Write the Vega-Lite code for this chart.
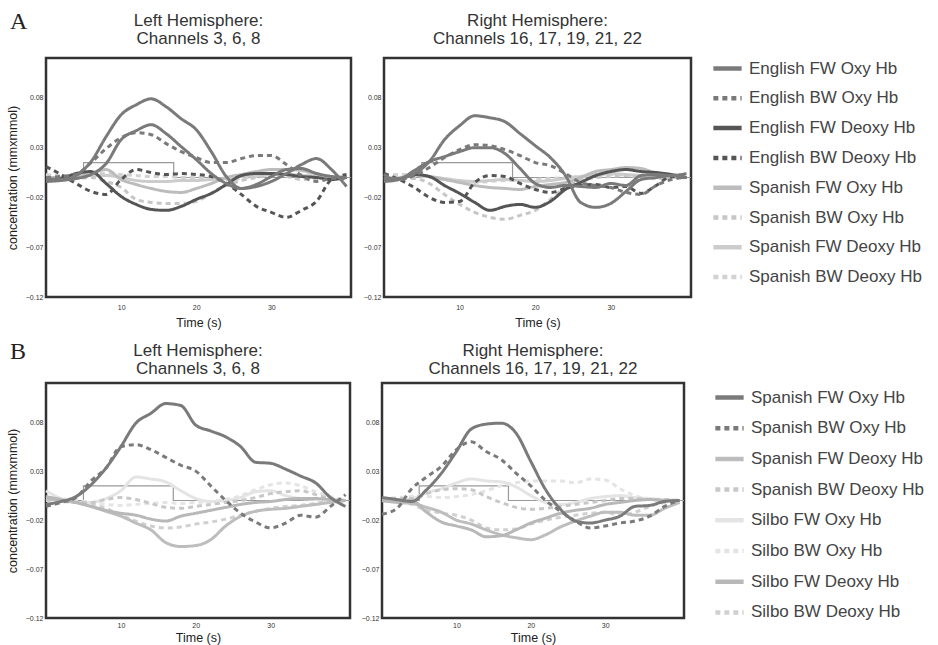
{
  "$schema": "https://vega.github.io/schema/vega-lite/v6.json",
  "background": "white",
  "padding": {"left": 5, "top": 10, "right": 2, "bottom": 0},
  "config": {
    "font": "Liberation Sans",
    "view": {"stroke": "#333333", "strokeWidth": 2.5},
    "axis": {"grid": false, "domain": false, "ticks": false, "labelFontSize": 7, "labelColor": "#333333", "titleFontSize": 12.5, "titleFontWeight": "normal", "titleColor": "#222222", "labelPadding": 4},
    "title": {"fontSize": 17, "fontWeight": "normal", "color": "#333333", "lineHeight": 18.5, "offset": 10},
    "legend": {"labelFontSize": 17, "labelColor": "#444444", "symbolType": "stroke", "symbolSize": 800, "symbolStrokeWidth": 4.5, "rowPadding": 3.8, "labelOffset": 5, "offset": 16, "padding": 0, "labelLimit": 250, "titleFontSize": 1, "titleLineHeight": 1}
  },
  "datasets": {
    "stim": [
      {"i": 0, "t": 0, "v": 0}, {"i": 1, "t": 5, "v": 0}, {"i": 2, "t": 5, "v": 0.015},
      {"i": 3, "t": 17, "v": 0.015}, {"i": 4, "t": 17, "v": 0}, {"i": 5, "t": 40.6, "v": 0}
    ],
    "AL": [
      {"s":"Spanish BW Deoxy Hb","t":0,"v":0.003},{"s":"Spanish BW Deoxy Hb","t":2,"v":0.002},{"s":"Spanish BW Deoxy Hb","t":4,"v":0.002},{"s":"Spanish BW Deoxy Hb","t":6,"v":0.003},{"s":"Spanish BW Deoxy Hb","t":8,"v":0.004},{"s":"Spanish BW Deoxy Hb","t":10,"v":0.003},{"s":"Spanish BW Deoxy Hb","t":12,"v":0.002},{"s":"Spanish BW Deoxy Hb","t":14,"v":0.001},{"s":"Spanish BW Deoxy Hb","t":16,"v":0.001},{"s":"Spanish BW Deoxy Hb","t":18,"v":0},{"s":"Spanish BW Deoxy Hb","t":20,"v":0},{"s":"Spanish BW Deoxy Hb","t":22,"v":-0.001},{"s":"Spanish BW Deoxy Hb","t":24,"v":-0.002},{"s":"Spanish BW Deoxy Hb","t":26,"v":-0.001},{"s":"Spanish BW Deoxy Hb","t":28,"v":0.001},{"s":"Spanish BW Deoxy Hb","t":30,"v":0.002},{"s":"Spanish BW Deoxy Hb","t":32,"v":0.003},{"s":"Spanish BW Deoxy Hb","t":34,"v":0.003},{"s":"Spanish BW Deoxy Hb","t":36,"v":0.002},{"s":"Spanish BW Deoxy Hb","t":38,"v":0.001},{"s":"Spanish BW Deoxy Hb","t":40,"v":0},
      {"s":"Spanish FW Deoxy Hb","t":0,"v":-0.003},{"s":"Spanish FW Deoxy Hb","t":2,"v":-0.002},{"s":"Spanish FW Deoxy Hb","t":4,"v":0},{"s":"Spanish FW Deoxy Hb","t":6,"v":0.002},{"s":"Spanish FW Deoxy Hb","t":8,"v":0.002},{"s":"Spanish FW Deoxy Hb","t":10,"v":0},{"s":"Spanish FW Deoxy Hb","t":12,"v":-0.003},{"s":"Spanish FW Deoxy Hb","t":14,"v":-0.004},{"s":"Spanish FW Deoxy Hb","t":16,"v":-0.004},{"s":"Spanish FW Deoxy Hb","t":18,"v":-0.003},{"s":"Spanish FW Deoxy Hb","t":20,"v":-0.003},{"s":"Spanish FW Deoxy Hb","t":22,"v":-0.002},{"s":"Spanish FW Deoxy Hb","t":24,"v":-0.001},{"s":"Spanish FW Deoxy Hb","t":26,"v":0.001},{"s":"Spanish FW Deoxy Hb","t":28,"v":0.002},{"s":"Spanish FW Deoxy Hb","t":30,"v":0.003},{"s":"Spanish FW Deoxy Hb","t":32,"v":0.003},{"s":"Spanish FW Deoxy Hb","t":34,"v":0.002},{"s":"Spanish FW Deoxy Hb","t":36,"v":0.001},{"s":"Spanish FW Deoxy Hb","t":38,"v":0},{"s":"Spanish FW Deoxy Hb","t":40,"v":0},
      {"s":"Spanish BW Oxy Hb","t":0,"v":-0.002},{"s":"Spanish BW Oxy Hb","t":2,"v":-0.002},{"s":"Spanish BW Oxy Hb","t":4,"v":-0.001},{"s":"Spanish BW Oxy Hb","t":6,"v":0},{"s":"Spanish BW Oxy Hb","t":8,"v":-0.004},{"s":"Spanish BW Oxy Hb","t":10,"v":-0.01},{"s":"Spanish BW Oxy Hb","t":12,"v":-0.022},{"s":"Spanish BW Oxy Hb","t":14,"v":-0.025},{"s":"Spanish BW Oxy Hb","t":16,"v":-0.026},{"s":"Spanish BW Oxy Hb","t":18,"v":-0.026},{"s":"Spanish BW Oxy Hb","t":20,"v":-0.024},{"s":"Spanish BW Oxy Hb","t":22,"v":-0.016},{"s":"Spanish BW Oxy Hb","t":24,"v":-0.008},{"s":"Spanish BW Oxy Hb","t":26,"v":-0.003},{"s":"Spanish BW Oxy Hb","t":28,"v":0},{"s":"Spanish BW Oxy Hb","t":30,"v":0.002},{"s":"Spanish BW Oxy Hb","t":32,"v":0.001},{"s":"Spanish BW Oxy Hb","t":34,"v":-0.002},{"s":"Spanish BW Oxy Hb","t":36,"v":-0.001},{"s":"Spanish BW Oxy Hb","t":38,"v":0},{"s":"Spanish BW Oxy Hb","t":40,"v":-0.001},
      {"s":"Spanish FW Oxy Hb","t":0,"v":0},{"s":"Spanish FW Oxy Hb","t":2,"v":0},{"s":"Spanish FW Oxy Hb","t":4,"v":0.002},{"s":"Spanish FW Oxy Hb","t":6,"v":0.004},{"s":"Spanish FW Oxy Hb","t":8,"v":0.008},{"s":"Spanish FW Oxy Hb","t":10,"v":-0.002},{"s":"Spanish FW Oxy Hb","t":12,"v":-0.007},{"s":"Spanish FW Oxy Hb","t":14,"v":-0.011},{"s":"Spanish FW Oxy Hb","t":16,"v":-0.014},{"s":"Spanish FW Oxy Hb","t":18,"v":-0.015},{"s":"Spanish FW Oxy Hb","t":20,"v":-0.011},{"s":"Spanish FW Oxy Hb","t":22,"v":-0.006},{"s":"Spanish FW Oxy Hb","t":24,"v":0},{"s":"Spanish FW Oxy Hb","t":26,"v":0.003},{"s":"Spanish FW Oxy Hb","t":28,"v":0.006},{"s":"Spanish FW Oxy Hb","t":30,"v":0.008},{"s":"Spanish FW Oxy Hb","t":32,"v":0.008},{"s":"Spanish FW Oxy Hb","t":34,"v":0.007},{"s":"Spanish FW Oxy Hb","t":36,"v":0.004},{"s":"Spanish FW Oxy Hb","t":38,"v":0.001},{"s":"Spanish FW Oxy Hb","t":40,"v":0},
      {"s":"English BW Deoxy Hb","t":0,"v":0.011},{"s":"English BW Deoxy Hb","t":2,"v":0.003},{"s":"English BW Deoxy Hb","t":4,"v":-0.006},{"s":"English BW Deoxy Hb","t":6,"v":-0.014},{"s":"English BW Deoxy Hb","t":8,"v":-0.017},{"s":"English BW Deoxy Hb","t":10,"v":-0.002},{"s":"English BW Deoxy Hb","t":12,"v":0.008},{"s":"English BW Deoxy Hb","t":14,"v":0.005},{"s":"English BW Deoxy Hb","t":16,"v":0.003},{"s":"English BW Deoxy Hb","t":18,"v":0.004},{"s":"English BW Deoxy Hb","t":20,"v":0.003},{"s":"English BW Deoxy Hb","t":22,"v":0.001},{"s":"English BW Deoxy Hb","t":24,"v":-0.006},{"s":"English BW Deoxy Hb","t":26,"v":-0.017},{"s":"English BW Deoxy Hb","t":28,"v":-0.029},{"s":"English BW Deoxy Hb","t":30,"v":-0.035},{"s":"English BW Deoxy Hb","t":32,"v":-0.04},{"s":"English BW Deoxy Hb","t":34,"v":-0.033},{"s":"English BW Deoxy Hb","t":36,"v":-0.024},{"s":"English BW Deoxy Hb","t":38,"v":-0.002},{"s":"English BW Deoxy Hb","t":40,"v":0.003},
      {"s":"English FW Deoxy Hb","t":0,"v":-0.002},{"s":"English FW Deoxy Hb","t":2,"v":-0.001},{"s":"English FW Deoxy Hb","t":4,"v":0.004},{"s":"English FW Deoxy Hb","t":6,"v":0.006},{"s":"English FW Deoxy Hb","t":8,"v":-0.006},{"s":"English FW Deoxy Hb","t":10,"v":-0.019},{"s":"English FW Deoxy Hb","t":12,"v":-0.027},{"s":"English FW Deoxy Hb","t":14,"v":-0.032},{"s":"English FW Deoxy Hb","t":16,"v":-0.033},{"s":"English FW Deoxy Hb","t":18,"v":-0.029},{"s":"English FW Deoxy Hb","t":20,"v":-0.022},{"s":"English FW Deoxy Hb","t":22,"v":-0.016},{"s":"English FW Deoxy Hb","t":24,"v":-0.007},{"s":"English FW Deoxy Hb","t":26,"v":0.002},{"s":"English FW Deoxy Hb","t":28,"v":0.004},{"s":"English FW Deoxy Hb","t":30,"v":0.004},{"s":"English FW Deoxy Hb","t":32,"v":0.003},{"s":"English FW Deoxy Hb","t":34,"v":0.001},{"s":"English FW Deoxy Hb","t":36,"v":0},{"s":"English FW Deoxy Hb","t":38,"v":-0.002},{"s":"English FW Deoxy Hb","t":40,"v":0},
      {"s":"English BW Oxy Hb","t":0,"v":0},{"s":"English BW Oxy Hb","t":2,"v":0.001},{"s":"English BW Oxy Hb","t":4,"v":0.003},{"s":"English BW Oxy Hb","t":6,"v":0.015},{"s":"English BW Oxy Hb","t":8,"v":0.029},{"s":"English BW Oxy Hb","t":10,"v":0.04},{"s":"English BW Oxy Hb","t":12,"v":0.045},{"s":"English BW Oxy Hb","t":14,"v":0.043},{"s":"English BW Oxy Hb","t":16,"v":0.034},{"s":"English BW Oxy Hb","t":18,"v":0.026},{"s":"English BW Oxy Hb","t":20,"v":0.02},{"s":"English BW Oxy Hb","t":22,"v":0.015},{"s":"English BW Oxy Hb","t":24,"v":0.015},{"s":"English BW Oxy Hb","t":26,"v":0.019},{"s":"English BW Oxy Hb","t":28,"v":0.022},{"s":"English BW Oxy Hb","t":30,"v":0.022},{"s":"English BW Oxy Hb","t":32,"v":0.013},{"s":"English BW Oxy Hb","t":34,"v":0.002},{"s":"English BW Oxy Hb","t":36,"v":-0.004},{"s":"English BW Oxy Hb","t":38,"v":-0.001},{"s":"English BW Oxy Hb","t":40,"v":0},
      {"s":"extra","t":0,"v":-0.004},{"s":"extra","t":2,"v":-0.003},{"s":"extra","t":4,"v":-0.001},{"s":"extra","t":6,"v":0.003},{"s":"extra","t":8,"v":0.014},{"s":"extra","t":10,"v":0.038},{"s":"extra","t":12,"v":0.047},{"s":"extra","t":14,"v":0.053},{"s":"extra","t":16,"v":0.044},{"s":"extra","t":18,"v":0.031},{"s":"extra","t":20,"v":0.018},{"s":"extra","t":22,"v":0.004},{"s":"extra","t":24,"v":-0.006},{"s":"extra","t":26,"v":-0.011},{"s":"extra","t":28,"v":-0.007},{"s":"extra","t":30,"v":0.001},{"s":"extra","t":32,"v":0.008},{"s":"extra","t":34,"v":0.009},{"s":"extra","t":36,"v":0.004},{"s":"extra","t":38,"v":0.001},{"s":"extra","t":40,"v":0},
      {"s":"English FW Oxy Hb","t":0,"v":-0.002},{"s":"English FW Oxy Hb","t":2,"v":-0.002},{"s":"English FW Oxy Hb","t":4,"v":0.002},{"s":"English FW Oxy Hb","t":6,"v":0.016},{"s":"English FW Oxy Hb","t":8,"v":0.041},{"s":"English FW Oxy Hb","t":10,"v":0.063},{"s":"English FW Oxy Hb","t":12,"v":0.073},{"s":"English FW Oxy Hb","t":14,"v":0.079},{"s":"English FW Oxy Hb","t":16,"v":0.071},{"s":"English FW Oxy Hb","t":18,"v":0.059},{"s":"English FW Oxy Hb","t":20,"v":0.048},{"s":"English FW Oxy Hb","t":22,"v":0.026},{"s":"English FW Oxy Hb","t":24,"v":0.001},{"s":"English FW Oxy Hb","t":26,"v":-0.011},{"s":"English FW Oxy Hb","t":28,"v":-0.009},{"s":"English FW Oxy Hb","t":30,"v":-0.004},{"s":"English FW Oxy Hb","t":32,"v":0.004},{"s":"English FW Oxy Hb","t":34,"v":0.013},{"s":"English FW Oxy Hb","t":36,"v":0.019},{"s":"English FW Oxy Hb","t":38,"v":0.008},{"s":"English FW Oxy Hb","t":40,"v":-0.009}
    ],
    "AR": [
      {"s":"Spanish BW Deoxy Hb","t":0,"v":0.002},{"s":"Spanish BW Deoxy Hb","t":2,"v":0.003},{"s":"Spanish BW Deoxy Hb","t":4,"v":0.002},{"s":"Spanish BW Deoxy Hb","t":6,"v":0},{"s":"Spanish BW Deoxy Hb","t":8,"v":-0.002},{"s":"Spanish BW Deoxy Hb","t":10,"v":-0.004},{"s":"Spanish BW Deoxy Hb","t":12,"v":-0.005},{"s":"Spanish BW Deoxy Hb","t":14,"v":-0.004},{"s":"Spanish BW Deoxy Hb","t":16,"v":-0.003},{"s":"Spanish BW Deoxy Hb","t":18,"v":-0.003},{"s":"Spanish BW Deoxy Hb","t":20,"v":-0.002},{"s":"Spanish BW Deoxy Hb","t":22,"v":-0.001},{"s":"Spanish BW Deoxy Hb","t":24,"v":0},{"s":"Spanish BW Deoxy Hb","t":26,"v":0.001},{"s":"Spanish BW Deoxy Hb","t":28,"v":0.002},{"s":"Spanish BW Deoxy Hb","t":30,"v":0.003},{"s":"Spanish BW Deoxy Hb","t":32,"v":0.002},{"s":"Spanish BW Deoxy Hb","t":34,"v":0.001},{"s":"Spanish BW Deoxy Hb","t":36,"v":0},{"s":"Spanish BW Deoxy Hb","t":38,"v":0},{"s":"Spanish BW Deoxy Hb","t":40,"v":0},
      {"s":"Spanish FW Deoxy Hb","t":0,"v":-0.002},{"s":"Spanish FW Deoxy Hb","t":2,"v":0},{"s":"Spanish FW Deoxy Hb","t":4,"v":0.002},{"s":"Spanish FW Deoxy Hb","t":6,"v":0.001},{"s":"Spanish FW Deoxy Hb","t":8,"v":-0.001},{"s":"Spanish FW Deoxy Hb","t":10,"v":-0.003},{"s":"Spanish FW Deoxy Hb","t":12,"v":-0.004},{"s":"Spanish FW Deoxy Hb","t":14,"v":-0.003},{"s":"Spanish FW Deoxy Hb","t":16,"v":-0.002},{"s":"Spanish FW Deoxy Hb","t":18,"v":-0.003},{"s":"Spanish FW Deoxy Hb","t":20,"v":-0.004},{"s":"Spanish FW Deoxy Hb","t":22,"v":-0.003},{"s":"Spanish FW Deoxy Hb","t":24,"v":-0.001},{"s":"Spanish FW Deoxy Hb","t":26,"v":0.001},{"s":"Spanish FW Deoxy Hb","t":28,"v":0.003},{"s":"Spanish FW Deoxy Hb","t":30,"v":0.004},{"s":"Spanish FW Deoxy Hb","t":32,"v":0.003},{"s":"Spanish FW Deoxy Hb","t":34,"v":0.002},{"s":"Spanish FW Deoxy Hb","t":36,"v":0.001},{"s":"Spanish FW Deoxy Hb","t":38,"v":0},{"s":"Spanish FW Deoxy Hb","t":40,"v":0},
      {"s":"Spanish BW Oxy Hb","t":0,"v":0},{"s":"Spanish BW Oxy Hb","t":2,"v":-0.001},{"s":"Spanish BW Oxy Hb","t":4,"v":-0.001},{"s":"Spanish BW Oxy Hb","t":6,"v":-0.006},{"s":"Spanish BW Oxy Hb","t":8,"v":-0.017},{"s":"Spanish BW Oxy Hb","t":10,"v":-0.027},{"s":"Spanish BW Oxy Hb","t":12,"v":-0.035},{"s":"Spanish BW Oxy Hb","t":14,"v":-0.04},{"s":"Spanish BW Oxy Hb","t":16,"v":-0.042},{"s":"Spanish BW Oxy Hb","t":18,"v":-0.038},{"s":"Spanish BW Oxy Hb","t":20,"v":-0.033},{"s":"Spanish BW Oxy Hb","t":22,"v":-0.022},{"s":"Spanish BW Oxy Hb","t":24,"v":-0.01},{"s":"Spanish BW Oxy Hb","t":26,"v":-0.003},{"s":"Spanish BW Oxy Hb","t":28,"v":0},{"s":"Spanish BW Oxy Hb","t":30,"v":0.001},{"s":"Spanish BW Oxy Hb","t":32,"v":0.002},{"s":"Spanish BW Oxy Hb","t":34,"v":0},{"s":"Spanish BW Oxy Hb","t":36,"v":-0.001},{"s":"Spanish BW Oxy Hb","t":38,"v":0},{"s":"Spanish BW Oxy Hb","t":40,"v":0},
      {"s":"Spanish FW Oxy Hb","t":0,"v":-0.002},{"s":"Spanish FW Oxy Hb","t":2,"v":-0.001},{"s":"Spanish FW Oxy Hb","t":4,"v":0.003},{"s":"Spanish FW Oxy Hb","t":6,"v":0.001},{"s":"Spanish FW Oxy Hb","t":8,"v":-0.002},{"s":"Spanish FW Oxy Hb","t":10,"v":-0.005},{"s":"Spanish FW Oxy Hb","t":12,"v":-0.008},{"s":"Spanish FW Oxy Hb","t":14,"v":-0.01},{"s":"Spanish FW Oxy Hb","t":16,"v":-0.011},{"s":"Spanish FW Oxy Hb","t":18,"v":-0.012},{"s":"Spanish FW Oxy Hb","t":20,"v":-0.009},{"s":"Spanish FW Oxy Hb","t":22,"v":-0.007},{"s":"Spanish FW Oxy Hb","t":24,"v":-0.005},{"s":"Spanish FW Oxy Hb","t":26,"v":0},{"s":"Spanish FW Oxy Hb","t":28,"v":0.006},{"s":"Spanish FW Oxy Hb","t":30,"v":0.008},{"s":"Spanish FW Oxy Hb","t":32,"v":0.01},{"s":"Spanish FW Oxy Hb","t":34,"v":0.009},{"s":"Spanish FW Oxy Hb","t":36,"v":0.004},{"s":"Spanish FW Oxy Hb","t":38,"v":0.001},{"s":"Spanish FW Oxy Hb","t":40,"v":0},
      {"s":"English BW Deoxy Hb","t":0,"v":0.004},{"s":"English BW Deoxy Hb","t":2,"v":-0.002},{"s":"English BW Deoxy Hb","t":4,"v":-0.01},{"s":"English BW Deoxy Hb","t":6,"v":-0.02},{"s":"English BW Deoxy Hb","t":8,"v":-0.025},{"s":"English BW Deoxy Hb","t":10,"v":-0.024},{"s":"English BW Deoxy Hb","t":12,"v":-0.005},{"s":"English BW Deoxy Hb","t":14,"v":0.002},{"s":"English BW Deoxy Hb","t":16,"v":0.001},{"s":"English BW Deoxy Hb","t":18,"v":-0.006},{"s":"English BW Deoxy Hb","t":20,"v":-0.012},{"s":"English BW Deoxy Hb","t":22,"v":-0.015},{"s":"English BW Deoxy Hb","t":24,"v":-0.011},{"s":"English BW Deoxy Hb","t":26,"v":-0.008},{"s":"English BW Deoxy Hb","t":28,"v":-0.007},{"s":"English BW Deoxy Hb","t":30,"v":-0.01},{"s":"English BW Deoxy Hb","t":32,"v":-0.009},{"s":"English BW Deoxy Hb","t":34,"v":-0.016},{"s":"English BW Deoxy Hb","t":36,"v":-0.008},{"s":"English BW Deoxy Hb","t":38,"v":0.001},{"s":"English BW Deoxy Hb","t":40,"v":0},
      {"s":"English FW Deoxy Hb","t":0,"v":0},{"s":"English FW Deoxy Hb","t":2,"v":-0.001},{"s":"English FW Deoxy Hb","t":4,"v":0.003},{"s":"English FW Deoxy Hb","t":6,"v":0.001},{"s":"English FW Deoxy Hb","t":8,"v":-0.008},{"s":"English FW Deoxy Hb","t":10,"v":-0.016},{"s":"English FW Deoxy Hb","t":12,"v":-0.025},{"s":"English FW Deoxy Hb","t":14,"v":-0.033},{"s":"English FW Deoxy Hb","t":16,"v":-0.029},{"s":"English FW Deoxy Hb","t":18,"v":-0.027},{"s":"English FW Deoxy Hb","t":20,"v":-0.03},{"s":"English FW Deoxy Hb","t":22,"v":-0.024},{"s":"English FW Deoxy Hb","t":24,"v":-0.012},{"s":"English FW Deoxy Hb","t":26,"v":-0.005},{"s":"English FW Deoxy Hb","t":28,"v":0.002},{"s":"English FW Deoxy Hb","t":30,"v":0.006},{"s":"English FW Deoxy Hb","t":32,"v":0.008},{"s":"English FW Deoxy Hb","t":34,"v":0.006},{"s":"English FW Deoxy Hb","t":36,"v":0.005},{"s":"English FW Deoxy Hb","t":38,"v":0.003},{"s":"English FW Deoxy Hb","t":40,"v":0},
      {"s":"English BW Oxy Hb","t":0,"v":0.003},{"s":"English BW Oxy Hb","t":2,"v":-0.002},{"s":"English BW Oxy Hb","t":4,"v":0.002},{"s":"English BW Oxy Hb","t":6,"v":0.01},{"s":"English BW Oxy Hb","t":8,"v":0.02},{"s":"English BW Oxy Hb","t":10,"v":0.028},{"s":"English BW Oxy Hb","t":12,"v":0.033},{"s":"English BW Oxy Hb","t":14,"v":0.032},{"s":"English BW Oxy Hb","t":16,"v":0.028},{"s":"English BW Oxy Hb","t":18,"v":0.022},{"s":"English BW Oxy Hb","t":20,"v":0.015},{"s":"English BW Oxy Hb","t":22,"v":0.012},{"s":"English BW Oxy Hb","t":24,"v":0.004},{"s":"English BW Oxy Hb","t":26,"v":-0.005},{"s":"English BW Oxy Hb","t":28,"v":-0.008},{"s":"English BW Oxy Hb","t":30,"v":-0.01},{"s":"English BW Oxy Hb","t":32,"v":-0.015},{"s":"English BW Oxy Hb","t":34,"v":-0.017},{"s":"English BW Oxy Hb","t":36,"v":-0.008},{"s":"English BW Oxy Hb","t":38,"v":-0.002},{"s":"English BW Oxy Hb","t":40,"v":0},
      {"s":"extra","t":0,"v":-0.004},{"s":"extra","t":2,"v":-0.002},{"s":"extra","t":4,"v":0.007},{"s":"extra","t":6,"v":0.016},{"s":"extra","t":8,"v":0.021},{"s":"extra","t":10,"v":0.026},{"s":"extra","t":12,"v":0.03},{"s":"extra","t":14,"v":0.03},{"s":"extra","t":16,"v":0.024},{"s":"extra","t":18,"v":0.009},{"s":"extra","t":20,"v":-0.006},{"s":"extra","t":22,"v":-0.01},{"s":"extra","t":24,"v":-0.008},{"s":"extra","t":26,"v":-0.009},{"s":"extra","t":28,"v":-0.01},{"s":"extra","t":30,"v":-0.006},{"s":"extra","t":32,"v":-0.008},{"s":"extra","t":34,"v":0.002},{"s":"extra","t":36,"v":0.003},{"s":"extra","t":38,"v":0.002},{"s":"extra","t":40,"v":0.004},
      {"s":"English FW Oxy Hb","t":0,"v":-0.001},{"s":"English FW Oxy Hb","t":2,"v":-0.001},{"s":"English FW Oxy Hb","t":4,"v":0.004},{"s":"English FW Oxy Hb","t":6,"v":0.016},{"s":"English FW Oxy Hb","t":8,"v":0.038},{"s":"English FW Oxy Hb","t":10,"v":0.052},{"s":"English FW Oxy Hb","t":12,"v":0.062},{"s":"English FW Oxy Hb","t":14,"v":0.06},{"s":"English FW Oxy Hb","t":16,"v":0.056},{"s":"English FW Oxy Hb","t":18,"v":0.044},{"s":"English FW Oxy Hb","t":20,"v":0.032},{"s":"English FW Oxy Hb","t":22,"v":0.02},{"s":"English FW Oxy Hb","t":24,"v":0.002},{"s":"English FW Oxy Hb","t":26,"v":-0.025},{"s":"English FW Oxy Hb","t":28,"v":-0.03},{"s":"English FW Oxy Hb","t":30,"v":-0.026},{"s":"English FW Oxy Hb","t":32,"v":-0.014},{"s":"English FW Oxy Hb","t":34,"v":-0.002},{"s":"English FW Oxy Hb","t":36,"v":0},{"s":"English FW Oxy Hb","t":38,"v":0.002},{"s":"English FW Oxy Hb","t":40,"v":0}
    ],
    "BL": [
      {"s":"Silbo FW Oxy Hb","t":0,"v":0.01},{"s":"Silbo FW Oxy Hb","t":2,"v":0.002},{"s":"Silbo FW Oxy Hb","t":4,"v":-0.002},{"s":"Silbo FW Oxy Hb","t":6,"v":-0.002},{"s":"Silbo FW Oxy Hb","t":8,"v":0.002},{"s":"Silbo FW Oxy Hb","t":10,"v":0.01},{"s":"Silbo FW Oxy Hb","t":12,"v":0.024},{"s":"Silbo FW Oxy Hb","t":14,"v":0.022},{"s":"Silbo FW Oxy Hb","t":16,"v":0.019},{"s":"Silbo FW Oxy Hb","t":18,"v":0.01},{"s":"Silbo FW Oxy Hb","t":20,"v":0.002},{"s":"Silbo FW Oxy Hb","t":22,"v":-0.001},{"s":"Silbo FW Oxy Hb","t":24,"v":0},{"s":"Silbo FW Oxy Hb","t":26,"v":0.003},{"s":"Silbo FW Oxy Hb","t":28,"v":0.009},{"s":"Silbo FW Oxy Hb","t":30,"v":0.01},{"s":"Silbo FW Oxy Hb","t":32,"v":0.005},{"s":"Silbo FW Oxy Hb","t":34,"v":0.002},{"s":"Silbo FW Oxy Hb","t":36,"v":0.001},{"s":"Silbo FW Oxy Hb","t":38,"v":-0.001},{"s":"Silbo FW Oxy Hb","t":40,"v":0},
      {"s":"Silbo BW Oxy Hb","t":0,"v":0.003},{"s":"Silbo BW Oxy Hb","t":2,"v":0.002},{"s":"Silbo BW Oxy Hb","t":4,"v":0},{"s":"Silbo BW Oxy Hb","t":6,"v":-0.002},{"s":"Silbo BW Oxy Hb","t":8,"v":-0.004},{"s":"Silbo BW Oxy Hb","t":10,"v":-0.005},{"s":"Silbo BW Oxy Hb","t":12,"v":-0.004},{"s":"Silbo BW Oxy Hb","t":14,"v":-0.003},{"s":"Silbo BW Oxy Hb","t":16,"v":-0.002},{"s":"Silbo BW Oxy Hb","t":18,"v":-0.003},{"s":"Silbo BW Oxy Hb","t":20,"v":-0.002},{"s":"Silbo BW Oxy Hb","t":22,"v":-0.001},{"s":"Silbo BW Oxy Hb","t":24,"v":0.001},{"s":"Silbo BW Oxy Hb","t":26,"v":0.005},{"s":"Silbo BW Oxy Hb","t":28,"v":0.011},{"s":"Silbo BW Oxy Hb","t":30,"v":0.016},{"s":"Silbo BW Oxy Hb","t":32,"v":0.018},{"s":"Silbo BW Oxy Hb","t":34,"v":0.015},{"s":"Silbo BW Oxy Hb","t":36,"v":0.009},{"s":"Silbo BW Oxy Hb","t":38,"v":0.004},{"s":"Silbo BW Oxy Hb","t":40,"v":0.001},
      {"s":"Silbo BW Deoxy Hb","t":0,"v":0},{"s":"Silbo BW Deoxy Hb","t":2,"v":-0.001},{"s":"Silbo BW Deoxy Hb","t":4,"v":-0.002},{"s":"Silbo BW Deoxy Hb","t":6,"v":-0.004},{"s":"Silbo BW Deoxy Hb","t":8,"v":-0.008},{"s":"Silbo BW Deoxy Hb","t":10,"v":-0.015},{"s":"Silbo BW Deoxy Hb","t":12,"v":-0.021},{"s":"Silbo BW Deoxy Hb","t":14,"v":-0.026},{"s":"Silbo BW Deoxy Hb","t":16,"v":-0.028},{"s":"Silbo BW Deoxy Hb","t":18,"v":-0.027},{"s":"Silbo BW Deoxy Hb","t":20,"v":-0.024},{"s":"Silbo BW Deoxy Hb","t":22,"v":-0.022},{"s":"Silbo BW Deoxy Hb","t":24,"v":-0.019},{"s":"Silbo BW Deoxy Hb","t":26,"v":-0.015},{"s":"Silbo BW Deoxy Hb","t":28,"v":-0.011},{"s":"Silbo BW Deoxy Hb","t":30,"v":-0.008},{"s":"Silbo BW Deoxy Hb","t":32,"v":-0.006},{"s":"Silbo BW Deoxy Hb","t":34,"v":-0.005},{"s":"Silbo BW Deoxy Hb","t":36,"v":-0.003},{"s":"Silbo BW Deoxy Hb","t":38,"v":-0.001},{"s":"Silbo BW Deoxy Hb","t":40,"v":0},
      {"s":"Spanish BW Deoxy Hb","t":0,"v":0.002},{"s":"Spanish BW Deoxy Hb","t":2,"v":0},{"s":"Spanish BW Deoxy Hb","t":4,"v":-0.002},{"s":"Spanish BW Deoxy Hb","t":6,"v":-0.002},{"s":"Spanish BW Deoxy Hb","t":8,"v":0.001},{"s":"Spanish BW Deoxy Hb","t":10,"v":0.003},{"s":"Spanish BW Deoxy Hb","t":12,"v":0.001},{"s":"Spanish BW Deoxy Hb","t":14,"v":-0.003},{"s":"Spanish BW Deoxy Hb","t":16,"v":-0.007},{"s":"Spanish BW Deoxy Hb","t":18,"v":-0.008},{"s":"Spanish BW Deoxy Hb","t":20,"v":-0.006},{"s":"Spanish BW Deoxy Hb","t":22,"v":-0.004},{"s":"Spanish BW Deoxy Hb","t":24,"v":-0.002},{"s":"Spanish BW Deoxy Hb","t":26,"v":0},{"s":"Spanish BW Deoxy Hb","t":28,"v":0.003},{"s":"Spanish BW Deoxy Hb","t":30,"v":0.007},{"s":"Spanish BW Deoxy Hb","t":32,"v":0.009},{"s":"Spanish BW Deoxy Hb","t":34,"v":0.01},{"s":"Spanish BW Deoxy Hb","t":36,"v":0.006},{"s":"Spanish BW Deoxy Hb","t":38,"v":0.002},{"s":"Spanish BW Deoxy Hb","t":40,"v":0},
      {"s":"Spanish FW Deoxy Hb","t":0,"v":0.002},{"s":"Spanish FW Deoxy Hb","t":2,"v":0},{"s":"Spanish FW Deoxy Hb","t":4,"v":-0.002},{"s":"Spanish FW Deoxy Hb","t":6,"v":-0.006},{"s":"Spanish FW Deoxy Hb","t":8,"v":-0.011},{"s":"Spanish FW Deoxy Hb","t":10,"v":-0.016},{"s":"Spanish FW Deoxy Hb","t":12,"v":-0.023},{"s":"Spanish FW Deoxy Hb","t":14,"v":-0.03},{"s":"Spanish FW Deoxy Hb","t":16,"v":-0.043},{"s":"Spanish FW Deoxy Hb","t":18,"v":-0.047},{"s":"Spanish FW Deoxy Hb","t":20,"v":-0.046},{"s":"Spanish FW Deoxy Hb","t":22,"v":-0.04},{"s":"Spanish FW Deoxy Hb","t":24,"v":-0.026},{"s":"Spanish FW Deoxy Hb","t":26,"v":-0.016},{"s":"Spanish FW Deoxy Hb","t":28,"v":-0.011},{"s":"Spanish FW Deoxy Hb","t":30,"v":-0.009},{"s":"Spanish FW Deoxy Hb","t":32,"v":-0.008},{"s":"Spanish FW Deoxy Hb","t":34,"v":-0.006},{"s":"Spanish FW Deoxy Hb","t":36,"v":-0.004},{"s":"Spanish FW Deoxy Hb","t":38,"v":-0.002},{"s":"Spanish FW Deoxy Hb","t":40,"v":0},
      {"s":"Silbo FW Deoxy Hb","t":0,"v":0.004},{"s":"Silbo FW Deoxy Hb","t":2,"v":0.001},{"s":"Silbo FW Deoxy Hb","t":4,"v":-0.002},{"s":"Silbo FW Deoxy Hb","t":6,"v":-0.006},{"s":"Silbo FW Deoxy Hb","t":8,"v":-0.01},{"s":"Silbo FW Deoxy Hb","t":10,"v":-0.013},{"s":"Silbo FW Deoxy Hb","t":12,"v":-0.015},{"s":"Silbo FW Deoxy Hb","t":14,"v":-0.019},{"s":"Silbo FW Deoxy Hb","t":16,"v":-0.021},{"s":"Silbo FW Deoxy Hb","t":18,"v":-0.016},{"s":"Silbo FW Deoxy Hb","t":20,"v":-0.013},{"s":"Silbo FW Deoxy Hb","t":22,"v":-0.01},{"s":"Silbo FW Deoxy Hb","t":24,"v":-0.007},{"s":"Silbo FW Deoxy Hb","t":26,"v":-0.004},{"s":"Silbo FW Deoxy Hb","t":28,"v":-0.002},{"s":"Silbo FW Deoxy Hb","t":30,"v":-0.001},{"s":"Silbo FW Deoxy Hb","t":32,"v":0.001},{"s":"Silbo FW Deoxy Hb","t":34,"v":0.002},{"s":"Silbo FW Deoxy Hb","t":36,"v":0.002},{"s":"Silbo FW Deoxy Hb","t":38,"v":0.001},{"s":"Silbo FW Deoxy Hb","t":40,"v":0},
      {"s":"Spanish BW Oxy Hb","t":0,"v":-0.006},{"s":"Spanish BW Oxy Hb","t":2,"v":-0.002},{"s":"Spanish BW Oxy Hb","t":4,"v":0.003},{"s":"Spanish BW Oxy Hb","t":6,"v":0.02},{"s":"Spanish BW Oxy Hb","t":8,"v":0.033},{"s":"Spanish BW Oxy Hb","t":10,"v":0.055},{"s":"Spanish BW Oxy Hb","t":12,"v":0.057},{"s":"Spanish BW Oxy Hb","t":14,"v":0.052},{"s":"Spanish BW Oxy Hb","t":16,"v":0.044},{"s":"Spanish BW Oxy Hb","t":18,"v":0.036},{"s":"Spanish BW Oxy Hb","t":20,"v":0.03},{"s":"Spanish BW Oxy Hb","t":22,"v":0.015},{"s":"Spanish BW Oxy Hb","t":24,"v":0},{"s":"Spanish BW Oxy Hb","t":26,"v":-0.013},{"s":"Spanish BW Oxy Hb","t":28,"v":-0.022},{"s":"Spanish BW Oxy Hb","t":30,"v":-0.028},{"s":"Spanish BW Oxy Hb","t":32,"v":-0.023},{"s":"Spanish BW Oxy Hb","t":34,"v":-0.015},{"s":"Spanish BW Oxy Hb","t":36,"v":-0.017},{"s":"Spanish BW Oxy Hb","t":38,"v":-0.006},{"s":"Spanish BW Oxy Hb","t":40,"v":0.006},
      {"s":"Spanish FW Oxy Hb","t":0,"v":-0.004},{"s":"Spanish FW Oxy Hb","t":2,"v":-0.001},{"s":"Spanish FW Oxy Hb","t":4,"v":0.004},{"s":"Spanish FW Oxy Hb","t":6,"v":0.016},{"s":"Spanish FW Oxy Hb","t":8,"v":0.033},{"s":"Spanish FW Oxy Hb","t":10,"v":0.055},{"s":"Spanish FW Oxy Hb","t":12,"v":0.079},{"s":"Spanish FW Oxy Hb","t":14,"v":0.089},{"s":"Spanish FW Oxy Hb","t":16,"v":0.099},{"s":"Spanish FW Oxy Hb","t":18,"v":0.097},{"s":"Spanish FW Oxy Hb","t":20,"v":0.077},{"s":"Spanish FW Oxy Hb","t":22,"v":0.071},{"s":"Spanish FW Oxy Hb","t":24,"v":0.065},{"s":"Spanish FW Oxy Hb","t":26,"v":0.055},{"s":"Spanish FW Oxy Hb","t":28,"v":0.039},{"s":"Spanish FW Oxy Hb","t":30,"v":0.038},{"s":"Spanish FW Oxy Hb","t":32,"v":0.032},{"s":"Spanish FW Oxy Hb","t":34,"v":0.025},{"s":"Spanish FW Oxy Hb","t":36,"v":0.018},{"s":"Spanish FW Oxy Hb","t":38,"v":0.003},{"s":"Spanish FW Oxy Hb","t":40,"v":-0.006}
    ],
    "BR": [
      {"s":"Silbo FW Oxy Hb","t":0,"v":0},{"s":"Silbo FW Oxy Hb","t":2,"v":0.001},{"s":"Silbo FW Oxy Hb","t":4,"v":0.002},{"s":"Silbo FW Oxy Hb","t":6,"v":0.008},{"s":"Silbo FW Oxy Hb","t":8,"v":0.012},{"s":"Silbo FW Oxy Hb","t":10,"v":0.018},{"s":"Silbo FW Oxy Hb","t":12,"v":0.022},{"s":"Silbo FW Oxy Hb","t":14,"v":0.02},{"s":"Silbo FW Oxy Hb","t":16,"v":0.019},{"s":"Silbo FW Oxy Hb","t":18,"v":0.014},{"s":"Silbo FW Oxy Hb","t":20,"v":0.005},{"s":"Silbo FW Oxy Hb","t":22,"v":-0.002},{"s":"Silbo FW Oxy Hb","t":24,"v":-0.004},{"s":"Silbo FW Oxy Hb","t":26,"v":-0.002},{"s":"Silbo FW Oxy Hb","t":28,"v":0.002},{"s":"Silbo FW Oxy Hb","t":30,"v":0.004},{"s":"Silbo FW Oxy Hb","t":32,"v":0.005},{"s":"Silbo FW Oxy Hb","t":34,"v":0.003},{"s":"Silbo FW Oxy Hb","t":36,"v":0.002},{"s":"Silbo FW Oxy Hb","t":38,"v":0.001},{"s":"Silbo FW Oxy Hb","t":40,"v":0},
      {"s":"Silbo BW Oxy Hb","t":0,"v":0.002},{"s":"Silbo BW Oxy Hb","t":2,"v":0.003},{"s":"Silbo BW Oxy Hb","t":4,"v":0.004},{"s":"Silbo BW Oxy Hb","t":6,"v":0.004},{"s":"Silbo BW Oxy Hb","t":8,"v":0.003},{"s":"Silbo BW Oxy Hb","t":10,"v":0.004},{"s":"Silbo BW Oxy Hb","t":12,"v":0.006},{"s":"Silbo BW Oxy Hb","t":14,"v":0.01},{"s":"Silbo BW Oxy Hb","t":16,"v":0.015},{"s":"Silbo BW Oxy Hb","t":18,"v":0.018},{"s":"Silbo BW Oxy Hb","t":20,"v":0.02},{"s":"Silbo BW Oxy Hb","t":22,"v":0.02},{"s":"Silbo BW Oxy Hb","t":24,"v":0.02},{"s":"Silbo BW Oxy Hb","t":26,"v":0.018},{"s":"Silbo BW Oxy Hb","t":28,"v":0.022},{"s":"Silbo BW Oxy Hb","t":30,"v":0.021},{"s":"Silbo BW Oxy Hb","t":32,"v":0.012},{"s":"Silbo BW Oxy Hb","t":34,"v":0.005},{"s":"Silbo BW Oxy Hb","t":36,"v":0.001},{"s":"Silbo BW Oxy Hb","t":38,"v":0},{"s":"Silbo BW Oxy Hb","t":40,"v":0},
      {"s":"Silbo BW Deoxy Hb","t":0,"v":0},{"s":"Silbo BW Deoxy Hb","t":2,"v":-0.001},{"s":"Silbo BW Deoxy Hb","t":4,"v":-0.004},{"s":"Silbo BW Deoxy Hb","t":6,"v":-0.01},{"s":"Silbo BW Deoxy Hb","t":8,"v":-0.013},{"s":"Silbo BW Deoxy Hb","t":10,"v":-0.015},{"s":"Silbo BW Deoxy Hb","t":12,"v":-0.02},{"s":"Silbo BW Deoxy Hb","t":14,"v":-0.028},{"s":"Silbo BW Deoxy Hb","t":16,"v":-0.03},{"s":"Silbo BW Deoxy Hb","t":18,"v":-0.029},{"s":"Silbo BW Deoxy Hb","t":20,"v":-0.024},{"s":"Silbo BW Deoxy Hb","t":22,"v":-0.02},{"s":"Silbo BW Deoxy Hb","t":24,"v":-0.017},{"s":"Silbo BW Deoxy Hb","t":26,"v":-0.015},{"s":"Silbo BW Deoxy Hb","t":28,"v":-0.013},{"s":"Silbo BW Deoxy Hb","t":30,"v":-0.012},{"s":"Silbo BW Deoxy Hb","t":32,"v":-0.015},{"s":"Silbo BW Deoxy Hb","t":34,"v":-0.012},{"s":"Silbo BW Deoxy Hb","t":36,"v":-0.006},{"s":"Silbo BW Deoxy Hb","t":38,"v":-0.002},{"s":"Silbo BW Deoxy Hb","t":40,"v":0},
      {"s":"Spanish BW Deoxy Hb","t":0,"v":0.002},{"s":"Spanish BW Deoxy Hb","t":2,"v":0.002},{"s":"Spanish BW Deoxy Hb","t":4,"v":0.002},{"s":"Spanish BW Deoxy Hb","t":6,"v":0.007},{"s":"Spanish BW Deoxy Hb","t":8,"v":0.011},{"s":"Spanish BW Deoxy Hb","t":10,"v":0.012},{"s":"Spanish BW Deoxy Hb","t":12,"v":0.011},{"s":"Spanish BW Deoxy Hb","t":14,"v":0.004},{"s":"Spanish BW Deoxy Hb","t":16,"v":-0.002},{"s":"Spanish BW Deoxy Hb","t":18,"v":-0.007},{"s":"Spanish BW Deoxy Hb","t":20,"v":-0.009},{"s":"Spanish BW Deoxy Hb","t":22,"v":-0.008},{"s":"Spanish BW Deoxy Hb","t":24,"v":-0.006},{"s":"Spanish BW Deoxy Hb","t":26,"v":-0.004},{"s":"Spanish BW Deoxy Hb","t":28,"v":-0.002},{"s":"Spanish BW Deoxy Hb","t":30,"v":0},{"s":"Spanish BW Deoxy Hb","t":32,"v":0.002},{"s":"Spanish BW Deoxy Hb","t":34,"v":0.002},{"s":"Spanish BW Deoxy Hb","t":36,"v":0.001},{"s":"Spanish BW Deoxy Hb","t":38,"v":0.001},{"s":"Spanish BW Deoxy Hb","t":40,"v":0},
      {"s":"Spanish FW Deoxy Hb","t":0,"v":0},{"s":"Spanish FW Deoxy Hb","t":2,"v":-0.002},{"s":"Spanish FW Deoxy Hb","t":4,"v":-0.003},{"s":"Spanish FW Deoxy Hb","t":6,"v":-0.007},{"s":"Spanish FW Deoxy Hb","t":8,"v":-0.012},{"s":"Spanish FW Deoxy Hb","t":10,"v":-0.02},{"s":"Spanish FW Deoxy Hb","t":12,"v":-0.024},{"s":"Spanish FW Deoxy Hb","t":14,"v":-0.03},{"s":"Spanish FW Deoxy Hb","t":16,"v":-0.035},{"s":"Spanish FW Deoxy Hb","t":18,"v":-0.038},{"s":"Spanish FW Deoxy Hb","t":20,"v":-0.04},{"s":"Spanish FW Deoxy Hb","t":22,"v":-0.035},{"s":"Spanish FW Deoxy Hb","t":24,"v":-0.027},{"s":"Spanish FW Deoxy Hb","t":26,"v":-0.021},{"s":"Spanish FW Deoxy Hb","t":28,"v":-0.016},{"s":"Spanish FW Deoxy Hb","t":30,"v":-0.012},{"s":"Spanish FW Deoxy Hb","t":32,"v":-0.012},{"s":"Spanish FW Deoxy Hb","t":34,"v":-0.015},{"s":"Spanish FW Deoxy Hb","t":36,"v":-0.015},{"s":"Spanish FW Deoxy Hb","t":38,"v":-0.008},{"s":"Spanish FW Deoxy Hb","t":40,"v":-0.002},
      {"s":"Silbo FW Deoxy Hb","t":0,"v":0},{"s":"Silbo FW Deoxy Hb","t":2,"v":-0.001},{"s":"Silbo FW Deoxy Hb","t":4,"v":0},{"s":"Silbo FW Deoxy Hb","t":6,"v":-0.012},{"s":"Silbo FW Deoxy Hb","t":8,"v":-0.022},{"s":"Silbo FW Deoxy Hb","t":10,"v":-0.026},{"s":"Silbo FW Deoxy Hb","t":12,"v":-0.03},{"s":"Silbo FW Deoxy Hb","t":14,"v":-0.037},{"s":"Silbo FW Deoxy Hb","t":16,"v":-0.036},{"s":"Silbo FW Deoxy Hb","t":18,"v":-0.03},{"s":"Silbo FW Deoxy Hb","t":20,"v":-0.023},{"s":"Silbo FW Deoxy Hb","t":22,"v":-0.018},{"s":"Silbo FW Deoxy Hb","t":24,"v":-0.013},{"s":"Silbo FW Deoxy Hb","t":26,"v":-0.01},{"s":"Silbo FW Deoxy Hb","t":28,"v":-0.008},{"s":"Silbo FW Deoxy Hb","t":30,"v":-0.004},{"s":"Silbo FW Deoxy Hb","t":32,"v":-0.002},{"s":"Silbo FW Deoxy Hb","t":34,"v":0},{"s":"Silbo FW Deoxy Hb","t":36,"v":0.001},{"s":"Silbo FW Deoxy Hb","t":38,"v":0},{"s":"Silbo FW Deoxy Hb","t":40,"v":0},
      {"s":"Spanish BW Oxy Hb","t":0,"v":-0.014},{"s":"Spanish BW Oxy Hb","t":2,"v":-0.008},{"s":"Spanish BW Oxy Hb","t":4,"v":0.012},{"s":"Spanish BW Oxy Hb","t":6,"v":0.024},{"s":"Spanish BW Oxy Hb","t":8,"v":0.035},{"s":"Spanish BW Oxy Hb","t":10,"v":0.052},{"s":"Spanish BW Oxy Hb","t":12,"v":0.06},{"s":"Spanish BW Oxy Hb","t":14,"v":0.05},{"s":"Spanish BW Oxy Hb","t":16,"v":0.042},{"s":"Spanish BW Oxy Hb","t":18,"v":0.028},{"s":"Spanish BW Oxy Hb","t":20,"v":0.015},{"s":"Spanish BW Oxy Hb","t":22,"v":0},{"s":"Spanish BW Oxy Hb","t":24,"v":-0.011},{"s":"Spanish BW Oxy Hb","t":26,"v":-0.021},{"s":"Spanish BW Oxy Hb","t":28,"v":-0.028},{"s":"Spanish BW Oxy Hb","t":30,"v":-0.026},{"s":"Spanish BW Oxy Hb","t":32,"v":-0.023},{"s":"Spanish BW Oxy Hb","t":34,"v":-0.021},{"s":"Spanish BW Oxy Hb","t":36,"v":-0.016},{"s":"Spanish BW Oxy Hb","t":38,"v":-0.006},{"s":"Spanish BW Oxy Hb","t":40,"v":0},
      {"s":"Spanish FW Oxy Hb","t":0,"v":0.003},{"s":"Spanish FW Oxy Hb","t":2,"v":0.001},{"s":"Spanish FW Oxy Hb","t":4,"v":-0.001},{"s":"Spanish FW Oxy Hb","t":6,"v":0.011},{"s":"Spanish FW Oxy Hb","t":8,"v":0.028},{"s":"Spanish FW Oxy Hb","t":10,"v":0.05},{"s":"Spanish FW Oxy Hb","t":12,"v":0.073},{"s":"Spanish FW Oxy Hb","t":14,"v":0.078},{"s":"Spanish FW Oxy Hb","t":16,"v":0.079},{"s":"Spanish FW Oxy Hb","t":18,"v":0.069},{"s":"Spanish FW Oxy Hb","t":20,"v":0.04},{"s":"Spanish FW Oxy Hb","t":22,"v":0.011},{"s":"Spanish FW Oxy Hb","t":24,"v":-0.009},{"s":"Spanish FW Oxy Hb","t":26,"v":-0.021},{"s":"Spanish FW Oxy Hb","t":28,"v":-0.023},{"s":"Spanish FW Oxy Hb","t":30,"v":-0.02},{"s":"Spanish FW Oxy Hb","t":32,"v":-0.016},{"s":"Spanish FW Oxy Hb","t":34,"v":-0.006},{"s":"Spanish FW Oxy Hb","t":36,"v":-0.005},{"s":"Spanish FW Oxy Hb","t":38,"v":-0.001},{"s":"Spanish FW Oxy Hb","t":40,"v":0}
    ]
  },
  "resolve": {"scale": {"color": "independent", "strokeDash": "independent"}, "legend": {"color": "independent", "strokeDash": "independent"}},
  "spacing": 10,
  "vconcat": [
    {
      "title": {"text": "A", "anchor": "start", "frame": "bounds", "font": "Liberation Serif", "fontSize": 24, "fontWeight": "normal", "color": "#222222", "offset": -24, "dx": 5},
      "spacing": 7,
      "hconcat": [
        {
          "width": 305, "height": 239,
          "title": {"text": ["Left Hemisphere:", "Channels 3, 6, 8"]},
          "encoding": {
            "x": {"field": "t", "type": "quantitative", "scale": {"domain": [0, 40.6], "nice": false, "zero": false}, "axis": {"values": [10, 20, 30], "title": "Time (s)", "labelPadding": 6, "titlePadding": 6}},
            "y": {"field": "v", "type": "quantitative", "scale": {"domain": [-0.12, 0.12], "nice": false}, "axis": {"values": [0.08, 0.03, -0.02, -0.07, -0.12], "format": ".2f", "title": "concentration (mmxmmol)", "labelPadding": 3, "titlePadding": 6}}
          },
          "layer": [
            {"data": {"name": "stim"}, "mark": {"type": "line", "color": "#999999", "strokeWidth": 1.2}, "encoding": {"order": {"field": "i", "type": "quantitative"}}},
            {"data": {"name": "AL"}, "mark": {"type": "line", "strokeWidth": 3, "interpolate": "monotone"},
             "encoding": {
               "color": {"field": "s", "type": "nominal", "scale": {"domain": ["English FW Oxy Hb","English BW Oxy Hb","English FW Deoxy Hb","English BW Deoxy Hb","Spanish FW Oxy Hb","Spanish BW Oxy Hb","Spanish FW Deoxy Hb","Spanish BW Deoxy Hb","extra"], "range": ["#7a7a7a","#7a7a7a","#555555","#555555","#bcbcbc","#c6c6c6","#cccccc","#d2d2d2","#7a7a7a"]}, "legend": {"title": " ", "titlePadding": -7, "values": ["English FW Oxy Hb","English BW Oxy Hb","English FW Deoxy Hb","English BW Deoxy Hb","Spanish FW Oxy Hb","Spanish BW Oxy Hb","Spanish FW Deoxy Hb","Spanish BW Deoxy Hb"]}},
               "strokeDash": {"field": "s", "type": "nominal", "scale": {"domain": ["English FW Oxy Hb","English BW Oxy Hb","English FW Deoxy Hb","English BW Deoxy Hb","Spanish FW Oxy Hb","Spanish BW Oxy Hb","Spanish FW Deoxy Hb","Spanish BW Deoxy Hb","extra"], "range": [[1,0],[5,4],[1,0],[5,4],[1,0],[5,4],[1,0],[5,4],[1,0]]}, "legend": {"title": " ", "titlePadding": -7, "values": ["English FW Oxy Hb","English BW Oxy Hb","English FW Deoxy Hb","English BW Deoxy Hb","Spanish FW Oxy Hb","Spanish BW Oxy Hb","Spanish FW Deoxy Hb","Spanish BW Deoxy Hb"]}}
             }}
          ]
        },
        {
          "width": 307, "height": 239,
          "title": {"text": ["Right Hemisphere:", "Channels 16, 17, 19, 21, 22"]},
          "encoding": {
            "x": {"field": "t", "type": "quantitative", "scale": {"domain": [0, 40.6], "nice": false, "zero": false}, "axis": {"values": [10, 20, 30], "title": "Time (s)", "labelPadding": 6, "titlePadding": 6}},
            "y": {"field": "v", "type": "quantitative", "scale": {"domain": [-0.12, 0.12], "nice": false}, "axis": {"values": [0.08, 0.03, -0.02, -0.07, -0.12], "format": ".2f", "title": null, "labelPadding": 3}}
          },
          "layer": [
            {"data": {"name": "stim"}, "mark": {"type": "line", "color": "#999999", "strokeWidth": 1.2}, "encoding": {"order": {"field": "i", "type": "quantitative"}}},
            {"data": {"name": "AR"}, "mark": {"type": "line", "strokeWidth": 3, "interpolate": "monotone"},
             "encoding": {
               "color": {"field": "s", "type": "nominal", "scale": {"domain": ["English FW Oxy Hb","English BW Oxy Hb","English FW Deoxy Hb","English BW Deoxy Hb","Spanish FW Oxy Hb","Spanish BW Oxy Hb","Spanish FW Deoxy Hb","Spanish BW Deoxy Hb","extra"], "range": ["#7a7a7a","#7a7a7a","#555555","#555555","#bcbcbc","#c6c6c6","#cccccc","#d2d2d2","#7a7a7a"]}, "legend": {"title": " ", "titlePadding": -7, "values": ["English FW Oxy Hb","English BW Oxy Hb","English FW Deoxy Hb","English BW Deoxy Hb","Spanish FW Oxy Hb","Spanish BW Oxy Hb","Spanish FW Deoxy Hb","Spanish BW Deoxy Hb"]}},
               "strokeDash": {"field": "s", "type": "nominal", "scale": {"domain": ["English FW Oxy Hb","English BW Oxy Hb","English FW Deoxy Hb","English BW Deoxy Hb","Spanish FW Oxy Hb","Spanish BW Oxy Hb","Spanish FW Deoxy Hb","Spanish BW Deoxy Hb","extra"], "range": [[1,0],[5,4],[1,0],[5,4],[1,0],[5,4],[1,0],[5,4],[1,0]]}, "legend": {"title": " ", "titlePadding": -7, "values": ["English FW Oxy Hb","English BW Oxy Hb","English FW Deoxy Hb","English BW Deoxy Hb","Spanish FW Oxy Hb","Spanish BW Oxy Hb","Spanish FW Deoxy Hb","Spanish BW Deoxy Hb"]}}
             }}
          ]
        }
      ]
    },
    {
      "title": {"text": "B", "anchor": "start", "frame": "bounds", "font": "Liberation Serif", "fontSize": 24, "fontWeight": "normal", "color": "#222222", "offset": -24, "dx": 5},
      "spacing": 6,
      "hconcat": [
        {
          "width": 304, "height": 235,
          "title": {"text": ["Left Hemisphere:", "Channels 3, 6, 8"], "offset": 5},
          "encoding": {
            "x": {"field": "t", "type": "quantitative", "scale": {"domain": [0, 40.6], "nice": false, "zero": false}, "axis": {"values": [10, 20, 30], "title": "Time (s)", "labelPadding": 3, "titlePadding": 3}},
            "y": {"field": "v", "type": "quantitative", "scale": {"domain": [-0.12, 0.12], "nice": false}, "axis": {"values": [0.08, 0.03, -0.02, -0.07, -0.12], "format": ".2f", "title": "concentration (mmxmmol)", "labelPadding": 3, "titlePadding": 6}}
          },
          "layer": [
            {"data": {"name": "stim"}, "mark": {"type": "line", "color": "#999999", "strokeWidth": 1.2}, "encoding": {"order": {"field": "i", "type": "quantitative"}}},
            {"data": {"name": "BL"}, "mark": {"type": "line", "strokeWidth": 3, "interpolate": "monotone"},
             "encoding": {
               "color": {"field": "s", "type": "nominal", "scale": {"domain": ["Spanish FW Oxy Hb","Spanish BW Oxy Hb","Spanish FW Deoxy Hb","Spanish BW Deoxy Hb","Silbo FW Oxy Hb","Silbo BW Oxy Hb","Silbo FW Deoxy Hb","Silbo BW Deoxy Hb"], "range": ["#7a7a7a","#7a7a7a","#bdbdbd","#c8c8c8","#e4e4e4","#e4e4e4","#b8b8b8","#d0d0d0"]}, "legend": {"title": " ", "titlePadding": -3, "offset": 25, "rowPadding": 4.7}},
               "strokeDash": {"field": "s", "type": "nominal", "scale": {"domain": ["Spanish FW Oxy Hb","Spanish BW Oxy Hb","Spanish FW Deoxy Hb","Spanish BW Deoxy Hb","Silbo FW Oxy Hb","Silbo BW Oxy Hb","Silbo FW Deoxy Hb","Silbo BW Deoxy Hb"], "range": [[1,0],[5,4],[1,0],[5,4],[1,0],[5,4],[1,0],[5,4]]}, "legend": {"title": " ", "titlePadding": -3, "offset": 25, "rowPadding": 4.7}}
             }}
          ]
        },
        {
          "width": 302, "height": 235,
          "title": {"text": ["Right Hemisphere:", "Channels 16, 17, 19, 21, 22"], "offset": 5},
          "encoding": {
            "x": {"field": "t", "type": "quantitative", "scale": {"domain": [0, 40.6], "nice": false, "zero": false}, "axis": {"values": [10, 20, 30], "title": "Time (s)", "labelPadding": 3, "titlePadding": 3}},
            "y": {"field": "v", "type": "quantitative", "scale": {"domain": [-0.12, 0.12], "nice": false}, "axis": {"values": [0.08, 0.03, -0.02, -0.07, -0.12], "format": ".2f", "title": null, "labelPadding": 3}}
          },
          "layer": [
            {"data": {"name": "stim"}, "mark": {"type": "line", "color": "#999999", "strokeWidth": 1.2}, "encoding": {"order": {"field": "i", "type": "quantitative"}}},
            {"data": {"name": "BR"}, "mark": {"type": "line", "strokeWidth": 3, "interpolate": "monotone"},
             "encoding": {
               "color": {"field": "s", "type": "nominal", "scale": {"domain": ["Spanish FW Oxy Hb","Spanish BW Oxy Hb","Spanish FW Deoxy Hb","Spanish BW Deoxy Hb","Silbo FW Oxy Hb","Silbo BW Oxy Hb","Silbo FW Deoxy Hb","Silbo BW Deoxy Hb"], "range": ["#7a7a7a","#7a7a7a","#bdbdbd","#c8c8c8","#e4e4e4","#e4e4e4","#b8b8b8","#d0d0d0"]}, "legend": {"title": " ", "titlePadding": -3, "offset": 25, "rowPadding": 4.7}},
               "strokeDash": {"field": "s", "type": "nominal", "scale": {"domain": ["Spanish FW Oxy Hb","Spanish BW Oxy Hb","Spanish FW Deoxy Hb","Spanish BW Deoxy Hb","Silbo FW Oxy Hb","Silbo BW Oxy Hb","Silbo FW Deoxy Hb","Silbo BW Deoxy Hb"], "range": [[1,0],[5,4],[1,0],[5,4],[1,0],[5,4],[1,0],[5,4]]}, "legend": {"title": " ", "titlePadding": -3, "offset": 25, "rowPadding": 4.7}}
             }}
          ]
        }
      ]
    }
  ]
}
